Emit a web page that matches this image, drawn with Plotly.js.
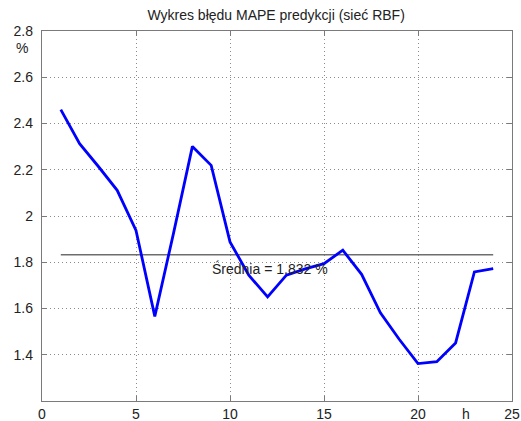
<!DOCTYPE html>
<html>
<head>
<meta charset="utf-8">
<script src="https://cdn.plot.ly/plotly-3.0.1.min.js"></script>
<style>html,body{margin:0;padding:0;background:#fff;}#chart{width:521px;height:421px;}</style>
</head>
<body>
<div id="chart"></div>
<script>
// Data
const hours = [1,2,3,4,5,6,7,8,9,10,11,12,13,14,15,16,17,18,19,20,21,22,23,24];
const mapeValues = [2.460,2.313,2.214,2.111,1.938,1.566,1.927,2.301,2.219,1.888,1.744,1.650,
                    1.744,1.771,1.794,1.852,1.748,1.581,1.467,1.362,1.370,1.451,1.758,1.772];
const meanValue = 1.832;
const meanLineX = [1, 24];
const xTickVals = [0,5,10,15,20,25];
const xTickText = ['0','5','10','15','20','25'];
const yTickVals = [1.4,1.6,1.8,2.0,2.2,2.4,2.6,2.8];
const yTickText = ['1.4','1.6','1.8','2','2.2','2.4','2.6','2.8'];
const titleText = 'Wykres błędu MAPE predykcji (sieć RBF)';
const meanLabel = 'Średnia = ' + meanValue.toFixed(3) + ' %';

const FONT = 'Arial, "Liberation Sans", sans-serif';
const TXT = '#222222';
const AX = '#7a7a7a';

const traces = [
  {x: meanLineX, y: meanLineX.map(() => meanValue), mode: 'lines',
   line: {color: '#6e6e6e', width: 1.5}, hoverinfo: 'skip', showlegend: false},
  {x: hours, y: mapeValues, mode: 'lines',
   line: {color: '#0000ff', width: 2.8}, showlegend: false}
];

const axisCommon = {
  showline: true, linecolor: AX, linewidth: 1.2, mirror: 'ticks',
  ticks: 'inside', ticklen: 5, tickcolor: AX, tickwidth: 1,
  showgrid: true, gridcolor: '#8c8c8c', griddash: '1px,3px', gridwidth: 1,
  zeroline: false, tickfont: {family: FONT, size: 14, color: TXT},
  fixedrange: true
};

const layout = {
  width: 521, height: 421,
  margin: {l: 42, r: 9, t: 31, b: 20, pad: 0},
  paper_bgcolor: '#ffffff', plot_bgcolor: '#ffffff',
  showlegend: false,
  title: {text: titleText, font: {family: FONT, size: 14, color: TXT},
          x: 0.53, xanchor: 'center', y: 0.965, yanchor: 'middle'},
  xaxis: Object.assign({}, axisCommon, {range: [0, 25], tickmode: 'array',
          tickvals: xTickVals, ticktext: xTickText, ticklabelstandoff: 0}),
  yaxis: Object.assign({}, axisCommon, {range: [1.2, 2.8], tickmode: 'array',
          tickvals: yTickVals, ticktext: yTickText, ticklabelstandoff: 5}),
  annotations: [
    {text: meanLabel, x: 9, y: 1.775, xref: 'x', yref: 'y', xanchor: 'left', yanchor: 'middle',
     showarrow: false, borderpad: 0, font: {family: FONT, size: 14, color: TXT}},
    {text: '%', x: 22, y: 48, xref: 'paper', yref: 'paper', showarrow: false,
     font: {family: FONT, size: 14, color: TXT}},
    {text: 'h', x: 466, y: 414, showarrow: false, font: {family: FONT, size: 14, color: TXT}}
  ]
};
// convert pixel-placed labels to paper coordinates
const pw = 521 - 42 - 9, ph = 421 - 31 - 20;
layout.annotations[1].x = (22 - 42) / pw; layout.annotations[1].y = 1 - (48 - 31) / ph;
layout.annotations[1].xanchor = 'center'; layout.annotations[1].yanchor = 'middle';
layout.annotations[2].xref = 'paper'; layout.annotations[2].yref = 'paper';
layout.annotations[2].x = (466 - 42) / pw; layout.annotations[2].y = 1 - (414 - 31) / ph;
layout.annotations[2].xanchor = 'center'; layout.annotations[2].yanchor = 'middle';

Plotly.newPlot('chart', traces, layout, {displayModeBar: false, staticPlot: true});
</script>
</body>
</html>
